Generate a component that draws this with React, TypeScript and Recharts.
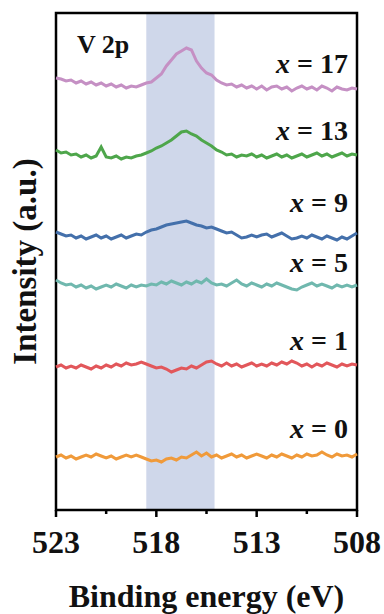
import React from 'react';
import { ComposedChart, Line, XAxis, YAxis, Area, ReferenceArea, ReferenceDot } from 'recharts';

const FONT = '"Liberation Serif", "Times New Roman", serif';

// Binding energy (eV)
const energies = [
  523, 522.75, 522.5, 522.25, 522, 521.75, 521.5, 521.25, 521, 520.75,
  520.5, 520.25, 520, 519.75, 519.5, 519.25, 519, 518.75, 518.5, 518.25,
  518, 517.75, 517.5, 517.25, 517, 516.75, 516.5, 516.25, 516, 515.75,
  515.5, 515.25, 515, 514.75, 514.5, 514.25, 514, 513.75, 513.5, 513.25,
  513, 512.75, 512.5, 512.25, 512, 511.75, 511.5, 511.25, 511, 510.75,
  510.5, 510.25, 510, 509.75, 509.5, 509.25, 509, 508.75, 508.5, 508.25, 508,
];

// Stacked intensities (a.u., offset for display)
const x17 = [
  432, 431, 429, 430, 427, 429, 426, 428, 425, 427,
  424, 426, 423, 425, 422, 424, 423, 425, 427, 428,
  432, 436, 444, 450, 456, 459, 462, 460, 449, 442,
  437, 435, 430, 427, 425, 426, 423, 425, 422, 424,
  421, 424, 420, 423, 424, 421, 423, 419, 422, 424,
  421, 423, 420, 424, 422, 419, 423, 421, 420, 422, 421,
];
const x13 = [
  360, 357, 358, 355, 356, 353, 355, 352, 354, 363,
  353, 352, 354, 351, 353, 352, 354, 355, 357, 359,
  362, 364, 367, 370, 374, 378, 379, 376, 374, 370,
  367, 364, 360, 358, 355, 356, 353, 355, 354, 356,
  353, 355, 352, 354, 356, 353, 355, 352, 354, 356,
  353, 355, 357, 354, 356, 353, 355, 357, 354, 356, 355,
];
const x9 = [
  278, 276, 274, 275, 272, 274, 271, 273, 275, 272,
  274, 271, 273, 275, 272, 274, 276, 275, 278, 280,
  281, 283, 285, 286, 287, 288, 289, 287, 285, 284,
  282, 283, 281, 279, 277, 278, 275, 272, 273, 275,
  273, 275, 276, 273, 275, 277, 274, 271, 272, 274,
  272, 275, 273, 271, 274, 272, 270, 273, 271, 274, 277,
];
const x5 = [
  230, 227, 225, 226, 223, 225, 222, 224, 221, 223,
  225, 223, 226, 224, 222, 225, 223, 225, 224, 226,
  225, 228, 226, 229, 227, 225, 228, 226, 229, 227,
  231, 227, 225, 226, 224, 227, 230, 226, 224, 227,
  225, 223, 226, 224, 227, 225, 223, 221, 220, 223,
  225, 227, 224, 226, 224, 222, 225, 223, 225, 223, 225,
];
const x1 = [
  143, 145, 142, 144, 142, 145, 143, 141, 144, 142,
  145, 143, 146, 144, 147, 145, 146, 148, 146, 144,
  142, 143, 141, 138, 140, 142, 141, 144, 142, 145,
  148, 149, 146, 144, 147, 144, 146, 143, 145, 147,
  144, 146, 144, 147, 145, 148, 146, 149, 147, 144,
  146, 143, 146, 144, 147, 145, 143, 146, 144, 146, 145,
];
const x0 = [
  53, 55, 52, 54, 51, 53, 55, 53, 56, 54,
  52, 54, 51, 53, 55, 53, 55, 53, 51, 49,
  50, 48, 51, 52, 50, 53, 52, 55, 58, 54,
  57, 53, 55, 52, 54, 56, 53, 55, 52, 54,
  56, 54, 52, 55, 53, 56, 54, 52, 55, 53,
  56, 54, 55, 58, 55, 53, 56, 54, 55, 53, 56,
];

const seriesKeys = ['x0', 'x1', 'x5', 'x9', 'x13', 'x17'];
const seriesValues = [x0, x1, x5, x9, x13, x17];
const seriesColors = ['#f09a3a', '#e2575b', '#70b8ae', '#4470ab', '#4ea64b', '#c590c4'];
const seriesNames = ['0', '1', '5', '9', '13', '17'];
const labelLevels = [72, 160, 238, 298, 370, 437];
const labelEnergy = 508.45;

const majorTicks = [523, 518, 513, 508];
const allTicks = [523, 520.5, 518, 515.5, 513, 510.5, 508];
const bandEdges = [518.5, 515.1];
const yDomain = [0, 497];

const data = energies.map((e, i) => {
  const row: any = { e };
  seriesKeys.forEach((k, j) => {
    row[k] = seriesValues[j][i];
  });
  return row;
});
const bandData = bandEdges.map((e) => ({ e, band: yDomain[1] }));

function XTick(props: any) {
  const { x, y, payload } = props;
  const major = majorTicks.includes(payload.value);
  return (
    <g>
      <line x1={x} x2={x} y1={y} y2={y + (major ? 7 : 4)} stroke="#000" strokeWidth={2.5} />
      {major && (
        <text x={x} y={y + 43} textAnchor="middle" fontFamily={FONT} fontWeight="bold" fontSize={32} fill="#111">
          {payload.value}
        </text>
      )}
    </g>
  );
}

const mkLabel = (n: string) => (p: any) => {
  const vb = p.viewBox || {};
  return (
    <text x={vb.x} y={vb.y} textAnchor="end" fontFamily={FONT} fontWeight="bold" fontSize={28} fill="#111">
      <tspan fontStyle="italic">x</tspan> = {n}
    </text>
  );
};

const titleLabel = (p: any) => {
  const vb = p.viewBox || {};
  return (
    <text x={vb.x} y={vb.y} textAnchor="start" fontFamily={FONT} fontWeight="bold" fontSize={26} fill="#111">
      V 2p
    </text>
  );
};

const xAxisLabel = (p: any) => {
  const vb = p.viewBox || { x: 56, y: 510, width: 301 };
  return (
    <text x={vb.x + vb.width / 2} y={vb.y + 97} textAnchor="middle" fontFamily={FONT} fontWeight="bold" fontSize={32} fill="#111">
      Binding energy (eV)
    </text>
  );
};

const yAxisLabel = (p: any) => {
  const vb = p.viewBox || { x: 0, y: 13, height: 497 };
  const cx = vb.x + 36;
  const cy = vb.y + vb.height / 2;
  return (
    <text x={cx} y={cy} transform={`rotate(-90 ${cx} ${cy})`} textAnchor="middle" fontFamily={FONT} fontWeight="bold" fontSize={33} fill="#111">
      Intensity (a.u.)
    </text>
  );
};

export default function App() {
  return (
    <div style={{ position: 'absolute', left: 0, top: 0, width: 384, height: 614, background: '#fff' }}>
      <ComposedChart width={384} height={614} data={data} margin={{ top: 13, right: 27, bottom: 0, left: 0 }}>
        <XAxis
          dataKey="e"
          type="number"
          domain={[508, 523]}
          reversed
          ticks={allTicks}
          interval={0}
          tickSize={0}
          tickMargin={0}
          tickLine={false}
          axisLine={false}
          tick={<XTick />}
          height={104}
          label={xAxisLabel}
        />
        <YAxis
          type="number"
          domain={yDomain}
          allowDataOverflow
          width={56}
          tick={false}
          tickLine={false}
          axisLine={false}
          label={yAxisLabel}
        />
        {seriesKeys.map((k, j) => (
          <Line
            key={k}
            dataKey={k}
            type="linear"
            stroke={seriesColors[j]}
            strokeWidth={3}
            dot={false}
            activeDot={false}
            isAnimationActive={false}
          />
        ))}
        <Area
          data={bandData}
          dataKey="band"
          type="linear"
          baseValue={yDomain[0]}
          fill="#9fb0d6"
          fillOpacity={0.5}
          stroke="none"
          dot={false}
          activeDot={false}
          isAnimationActive={false}
        />
        <ReferenceArea x1={523} x2={508} y1={yDomain[0]} y2={yDomain[1]} fill="none" stroke="#000" strokeWidth={2.5} />
        {seriesNames.map((n, j) => (
          <ReferenceDot key={n} x={labelEnergy} y={labelLevels[j]} r={0} fill="none" stroke="none" label={mkLabel(n)} />
        ))}
        <ReferenceDot x={521.95} y={457} r={0} fill="none" stroke="none" label={titleLabel} />
      </ComposedChart>
    </div>
  );
}
